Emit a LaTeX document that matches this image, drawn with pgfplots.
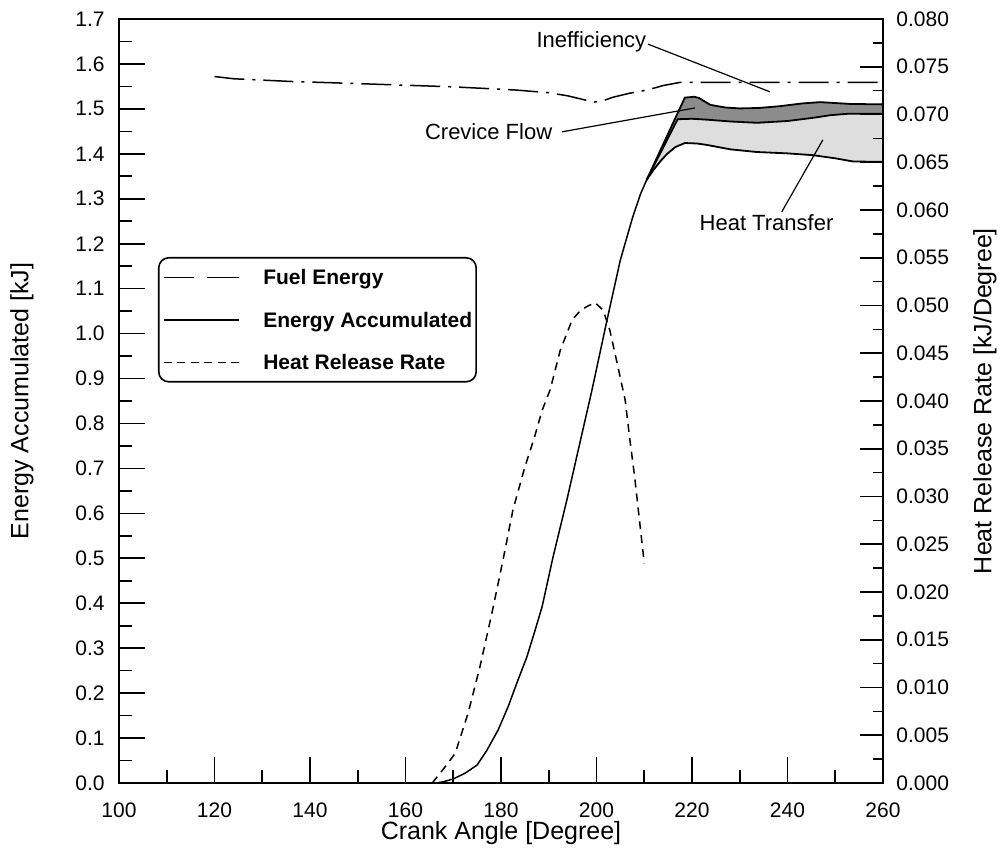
\documentclass[border=0pt]{standalone}
\usepackage{fontspec}
\setmainfont{Liberation Sans}
\usepackage{pgfplots}
\pgfplotsset{compat=1.18}
\usepgfplotslibrary{fillbetween}
\definecolor{darkfill}{RGB}{140,140,140}
\definecolor{lightfill}{RGB}{222,222,222}
\begin{document}
\begin{tikzpicture}
\begin{axis}[
  at={(0,0)}, anchor=south west,
  width=382pt, height=382pt, scale only axis,
  set layers,
  xmin=100, xmax=260, ymin=0, ymax=1.7,
  xtick distance=20, minor x tick num=1,
  ytick distance=0.1, minor y tick num=1,
  xtick pos=bottom, ytick pos=left,
  tick align=inside, major tick length=13pt, minor tick length=6.5pt,
  every tick/.style={black, line width=0.8pt},
  axis line style={line width=0.9pt},
  /pgf/number format/assume math mode=true,
  tick label style={font=\fontsize{10.5}{12}\selectfont, inner sep=0pt},
  yticklabel style={/pgf/number format/fixed, /pgf/number format/fixed zerofill, /pgf/number format/precision=1, xshift=-7pt},
  xticklabel style={yshift=-9.5pt},
  scaled y ticks=false,
  xlabel={Crank Angle [Degree]},
  ylabel={Energy Accumulated [kJ]},
  label style={font=\fontsize{12.5}{14}\selectfont},
  xlabel style={at={(axis description cs:0.5,-0.0654)}, anchor=center},
  ylabel style={at={(axis description cs:-0.127,0.5)}, anchor=center},
  legend image code/.code={\draw[#1] (0pt,0pt) -- (37.5pt,0pt);},
  legend cell align=left,
  legend style={at={(axis description cs:0.051,0.6885)}, anchor=north west,
    draw=black, line width=0.8pt, rounded corners=5pt, fill=white,
    font=\bfseries\fontsize{10.5}{12}\selectfont,
    inner xsep=2pt, inner ysep=6pt, row sep=13.75pt,
    nodes={inner sep=0pt, text height=7.5pt, text depth=0pt},
    /tikz/every odd column/.append style={column sep=12pt}},
]
% Fuel energy
\addplot[forget plot, black, line width=0.75pt, dash pattern=on 15pt off 4pt on 1.5pt off 4pt] coordinates {
(120,1.572)(124,1.567)(128,1.565)(132,1.563)(136,1.561)(145,1.558)(159,1.553)(170,1.549)(183,1.542)(190,1.536)(194,1.529)(197.5,1.520)(199.3,1.515)(201,1.517)(203.5,1.526)(207,1.535)(210.6,1.542)(214,1.552)(217.5,1.559)(230,1.559)(245,1.559)(260,1.559)};
% Energy accumulated, rising part
\addplot[forget plot, black, line width=0.75pt] coordinates {
(166.5,0)(168,0.003)(170,0.009)(172.5,0.022)(175,0.04)(177,0.072)(179.4,0.118)(181.5,0.17)(183.3,0.222)(185.4,0.28)(187,0.335)(188.6,0.392)(190.9,0.503)(193.8,0.63)(196.5,0.756)(199,0.872)(202.2,1.03)(205,1.164)(207.6,1.26)(209.2,1.31)(210.5,1.342)};
% Energy accumulated, after split
\addplot[forget plot, name path=bot, black, line width=0.9pt] coordinates {
(210.5,1.342)(212,1.365)(213.5,1.385)(214.8,1.400)(216.5,1.415)(218.5,1.424)(221,1.423)(223,1.420)(228,1.41)(233.6,1.404)(240,1.401)(245.3,1.397)(250,1.39)(253.7,1.383)(260,1.382)};
% Heat transfer upper edge
\addplot[forget plot, name path=mid, black, line width=0.9pt] coordinates {
(210.5,1.342)(217,1.477)(220,1.478)(223.1,1.476)(228,1.472)(233.6,1.469)(240,1.473)(245.3,1.48)(249,1.486)(252.5,1.489)(260,1.489)};
% Crevice flow upper edge
\addplot[forget plot, name path=top, black, line width=0.9pt] coordinates {
(210.5,1.342)(218.5,1.525)(220.5,1.527)(221.5,1.524)(223.8,1.509)(227,1.503)(230,1.501)(234,1.502)(238.4,1.506)(243,1.512)(246.8,1.515)(250,1.513)(253.1,1.511)(260,1.510)};
\addplot[forget plot, lightfill] fill between[of=bot and mid];
\addplot[forget plot, darkfill] fill between[of=mid and top];
% leader lines
\addplot[forget plot, black, line width=0.6pt] coordinates {(210.8,1.644)(236.3,1.538)};
\addplot[forget plot, black, line width=0.6pt] coordinates {(192.8,1.449)(220.6,1.502)};
\addplot[forget plot, black, line width=0.6pt] coordinates {(238.8,1.271)(247.4,1.431)};
\node[anchor=east, inner sep=0pt, font=\fontsize{11}{13}\selectfont] at (axis cs:210.5,1.650) {Inefficiency};
\node[anchor=east, inner sep=0pt, font=\fontsize{11}{13}\selectfont] at (axis cs:190.8,1.449) {Crevice Flow};
\node[anchor=center, inner sep=0pt, font=\fontsize{11}{13}\selectfont] at (axis cs:235.6,1.246) {Heat Transfer};
\addlegendimage{black, line width=0.75pt, dash pattern=on 15pt off 6.5pt on 16pt off 1pt}
\addlegendentry{Fuel Energy}
\addlegendimage{black, line width=0.75pt}
\addlegendentry{Energy Accumulated}
\addlegendimage{black, line width=0.75pt, dash pattern=on 4pt off 2.75pt}
\addlegendentry{Heat Release Rate}
\end{axis}
\begin{axis}[
  at={(0,0)}, anchor=south west,
  width=382pt, height=382pt, scale only axis,
  xmin=100, xmax=260, ymin=0, ymax=0.08,
  axis x line=none, axis y line*=right,
  ytick distance=0.005, minor y tick num=1,
  tick align=inside, major tick length=11.5pt, minor tick length=5pt,
  every tick/.style={black, line width=0.8pt},
  axis line style={line width=0.9pt},
  /pgf/number format/assume math mode=true,
  tick label style={font=\fontsize{10.5}{12}\selectfont, inner sep=0pt},
  yticklabel style={/pgf/number format/fixed, /pgf/number format/fixed zerofill, /pgf/number format/precision=3, xshift=6.5pt},
  scaled y ticks=false,
  ylabel={Heat Release Rate [kJ/Degree]},
  label style={font=\fontsize{12.5}{14}\selectfont},
  ylabel style={at={(axis description cs:1.1335,0.5)}, anchor=center},
]
\addplot[black, line width=0.75pt, dash pattern=on 4pt off 3pt] coordinates {
(165.6,0)(168,0.0015)(170.4,0.0031)(173.1,0.0073)(175.6,0.0122)(178.1,0.0178)(180.4,0.0233)(182.5,0.0286)(185,0.0331)(187,0.0362)(188.6,0.039)(190.3,0.0412)(192.4,0.0453)(194.9,0.0485)(196.5,0.0494)(198,0.0499)(199.7,0.0503)(201.4,0.0495)(202.8,0.0474)(204.3,0.044)(206,0.0401)(207,0.0359)(208,0.032)(209,0.0275)(210,0.023)};
\end{axis}
\path (-59.5pt,-37pt) rectangle (442.5pt,391.5pt);
\end{tikzpicture}
\end{document}
